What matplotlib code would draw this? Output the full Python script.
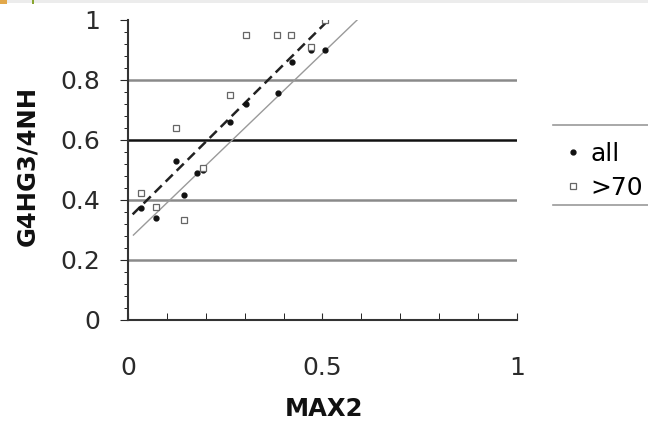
import matplotlib
matplotlib.use('Agg')
import matplotlib.pyplot as plt
from matplotlib.lines import Line2D
from matplotlib.patches import Rectangle
from matplotlib.ticker import MultipleLocator

plt.rcParams['font.family'] = ['DejaVu Sans']

# filled points ("all")
allX = [0.033, 0.072, 0.123, 0.145, 0.177, 0.192, 0.262, 0.303, 0.386, 0.423, 0.47, 0.508]
allY = [0.372, 0.339, 0.53, 0.417, 0.491, 0.50, 0.661, 0.72, 0.758, 0.861, 0.90, 0.90]

# open squares (">70")
overX = [0.033, 0.072, 0.123, 0.145, 0.192, 0.262, 0.303, 0.382, 0.42, 0.47, 0.506]
overY = [0.422, 0.376, 0.639, 0.333, 0.506, 0.75, 0.95, 0.95, 0.95, 0.91, 1.0]

# trend lines (end points)
dashX = [0.012, 0.52]
dashY = [0.352, 1.005]
solidX = [0.014, 0.60]
solidY = [0.283, 1.013]

gridY = [0.2, 0.4, 0.6, 0.8]
gridColors = ['#8a8a8a', '#8a8a8a', '#111111', '#8a8a8a']

fig = plt.figure(figsize=(6.48, 4.33), dpi=100)

# little strip at the top edge of the screenshot
fig.add_artist(Rectangle((0, 0.992), 1, 0.008, transform=fig.transFigure, color='#ececec', lw=0))
fig.add_artist(Rectangle((0, 0.99), 0.011, 0.01, transform=fig.transFigure, color='#e2a84a', lw=0))
fig.add_artist(Rectangle((0.05, 0.99), 0.003, 0.01, transform=fig.transFigure, color='#8aa632', lw=0))

ax = fig.add_axes([0.1975, 0.261, 0.6, 0.693])

for gy, gc in zip(gridY, gridColors):
    ax.axhline(gy, color=gc, lw=1.8, zorder=1)

ax.plot(solidX, solidY, color='#9a9a9a', lw=1.0, zorder=2)
ax.plot(dashX, dashY, color='#222222', lw=1.8, ls=(0, (4, 2.2)), zorder=2)

ax.plot(allX, allY, ls='none', marker='o', ms=3.5, color='#111111', zorder=3)
ax.plot(overX, overY, ls='none', marker='s', ms=5, mfc='white', mec='#666666', mew=0.9, zorder=4)

ax.set_xlim(0, 1)
ax.set_ylim(0, 1)
ax.set_xticks([0, 0.5, 1])
ax.set_xticklabels(['0', '0.5', '1'])
ax.set_yticks([0, 0.2, 0.4, 0.6, 0.8, 1])
ax.set_yticklabels(['0', '0.2', '0.4', '0.6', '0.8', '1'])
ax.xaxis.set_minor_locator(MultipleLocator(0.1))
ax.yaxis.set_minor_locator(MultipleLocator(0.04))
ax.tick_params(axis='both', labelsize=18, colors='#2a2a2a')
ax.tick_params(axis='x', which='both', direction='in', length=5, pad=26)
ax.tick_params(axis='y', which='major', direction='out', length=6, pad=14)
ax.tick_params(axis='y', which='minor', direction='out', length=3)

for s in ['top', 'right']:
    ax.spines[s].set_visible(False)
for s in ['left', 'bottom']:
    ax.spines[s].set_color('#333333')
    ax.spines[s].set_linewidth(1.5)

ax.set_xlabel('MAX2', fontsize=17.5, fontweight='bold', color='#111111')
ax.set_ylabel('G4HG3/4NH', fontsize=17.5, fontweight='bold', color='#111111')
ax.xaxis.set_label_coords(0.503, -0.255)
ax.yaxis.set_label_coords(-0.228, 0.515)

# legend
handles = [
    Line2D([], [], ls='none', marker='o', ms=3.5, color='#111111'),
    Line2D([], [], ls='none', marker='s', ms=4.5, mfc='white', mec='#666666', mew=0.9),
]
fig.legend(handles, ['all', '>70'], loc='upper left', bbox_to_anchor=(0.874, 0.673),
           frameon=False, fontsize=18, handlelength=0.5, handletextpad=0.45,
           labelspacing=0.42, borderaxespad=0, borderpad=0)
fig.add_artist(Line2D([0.853, 1.0], [0.711, 0.711], color='#9a9a9a', lw=1.2))
fig.add_artist(Line2D([0.853, 1.0], [0.527, 0.527], color='#9a9a9a', lw=1.2))

fig.savefig('out.png', dpi=100)
